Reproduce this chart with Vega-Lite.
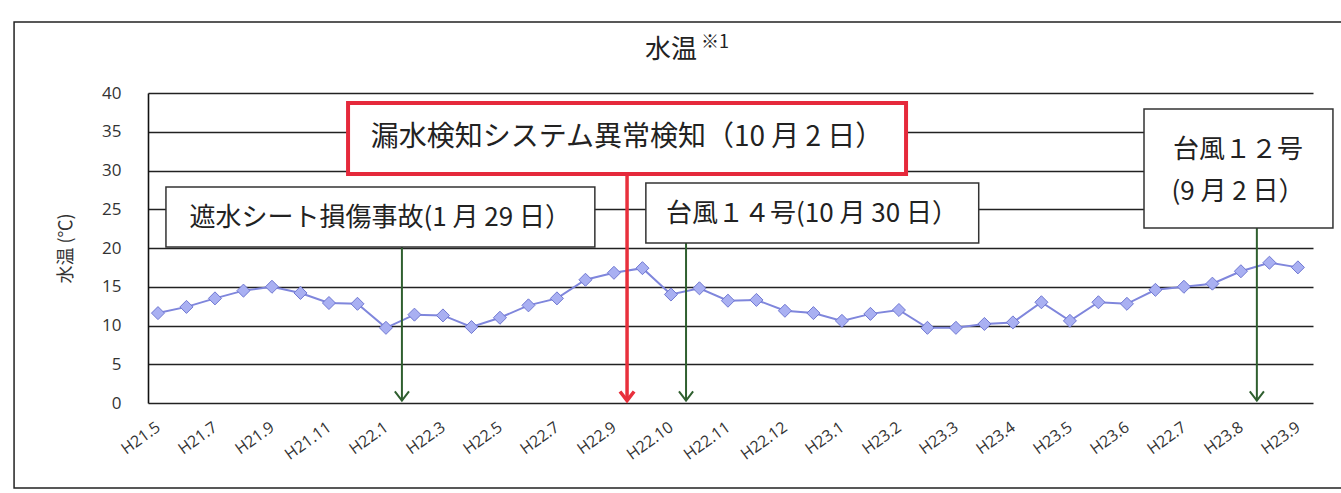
{
  "$schema": "https://vega.github.io/schema/vega-lite/v6.json",
  "autosize": {"type": "none"},
  "width": 1165,
  "height": 310,
  "padding": {"left": 148, "top": 93, "right": 28, "bottom": 90},
  "background": "white",
  "config": {
    "view": {"stroke": null}
  },
  "datasets": {
    "temps": [
      {"i": 0, "temp": 11.6}, {"i": 1, "temp": 12.4}, {"i": 2, "temp": 13.5}, {"i": 3, "temp": 14.5},
      {"i": 4, "temp": 15.0}, {"i": 5, "temp": 14.2}, {"i": 6, "temp": 12.9}, {"i": 7, "temp": 12.8},
      {"i": 8, "temp": 9.7}, {"i": 9, "temp": 11.4}, {"i": 10, "temp": 11.3}, {"i": 11, "temp": 9.8},
      {"i": 12, "temp": 11.0}, {"i": 13, "temp": 12.6}, {"i": 14, "temp": 13.5}, {"i": 15, "temp": 15.9},
      {"i": 16, "temp": 16.8}, {"i": 17, "temp": 17.4}, {"i": 18, "temp": 14.0}, {"i": 19, "temp": 14.8},
      {"i": 20, "temp": 13.2}, {"i": 21, "temp": 13.3}, {"i": 22, "temp": 11.9}, {"i": 23, "temp": 11.6},
      {"i": 24, "temp": 10.6}, {"i": 25, "temp": 11.5}, {"i": 26, "temp": 12.0}, {"i": 27, "temp": 9.7},
      {"i": 28, "temp": 9.7}, {"i": 29, "temp": 10.2}, {"i": 30, "temp": 10.4}, {"i": 31, "temp": 13.0},
      {"i": 32, "temp": 10.6}, {"i": 33, "temp": 13.0}, {"i": 34, "temp": 12.8}, {"i": 35, "temp": 14.6},
      {"i": 36, "temp": 15.0}, {"i": 37, "temp": 15.4}, {"i": 38, "temp": 17.0}, {"i": 39, "temp": 18.1},
      {"i": 40, "temp": 17.5}
    ],
    "frame": [
      {"x1": -5.05, "x2": 41.9, "y1": 49.16, "y2": -10.97}
    ],
    "heading": [
      {"tx": 18.0, "ty": 45.5, "label": "水温", "part": "main"},
      {"tx": 19.55, "ty": 46.4, "label": "※1", "part": "note"}
    ],
    "events": [
      {"type": "alert", "x1": 6.67, "x2": 26.25, "y1": 38.7, "y2": 29.55, "ax": 16.46},
      {"type": "event", "x1": 0.28, "x2": 15.33, "y1": 27.87, "y2": 20.13, "ax": 8.56},
      {"type": "event", "x1": 17.12, "x2": 28.8, "y1": 28.39, "y2": 20.65, "ax": 18.53},
      {"type": "event", "x1": 34.6, "x2": 41.23, "y1": 37.94, "y2": 22.58, "ax": 38.56}
    ],
    "texts": [
      {"type": "alert", "tx": 16.46, "ty": 34.2, "label": "漏水検知システム異常検知（10 月 2 日）"},
      {"type": "event", "tx": 7.8, "ty": 23.9, "label": "遮水シート損傷事故(1 月 29 日）"},
      {"type": "event", "tx": 22.95, "ty": 24.4, "label": "台風１４号(10 月 30 日）"},
      {"type": "event", "tx": 37.9, "ty": 32.6, "label": "台風１２号"},
      {"type": "event", "tx": 37.9, "ty": 27.2, "label": "(9 月 2 日）"}
    ]
  },
  "encoding": {
    "x": {"type": "quantitative",
      "scale": {"domain": [-0.35, 40.53], "nice": false, "zero": false},
      "axis": {"values": [0,2,4,6,8,10,12,14,16,18,20,22,24,26,28,30,32,34,36,38,40],
        "labelExpr": "['H21.5','H21.7','H21.9','H21.11','H22.1','H22.3','H22.5','H22.7','H22.9','H22.10','H22.11','H22.12','H23.1','H23.2','H23.3','H23.4','H23.5','H23.6','H22.7','H23.8','H23.9'][round(datum.value/2)]",
        "labelAngle": -36, "labelAlign": "right", "labelBaseline": "middle", "labelPadding": 22,
        "labelFont": "Open Sans", "labelFontSize": 16, "labelColor": "#333", "labelOverlap": false,
        "domain": false, "ticks": false, "grid": false,
        "title": null}},
    "y": {"type": "quantitative",
      "scale": {"domain": [0, 40], "nice": false},
      "axis": {"values": [0,5,10,15,20,25,30,35,40],
        "grid": true, "gridColor": "#222", "gridWidth": 1.4,
        "domain": true, "domainColor": "#111", "domainWidth": 1.6, "ticks": false, "labelOverlap": false,
        "labelPadding": 27, "labelFont": "Open Sans", "labelFontSize": 17, "labelColor": "#333",
        "title": "水温 (℃)", "titleFont": "Noto Sans CJK JP", "titleFontSize": 18, "titleFontWeight": "normal",
        "titleColor": "#333", "titlePadding": 26}}
  },
  "layer": [
    {
      "data": {"name": "frame"},
      "mark": {"type": "rect", "fill": null, "stroke": "#222", "strokeWidth": 1.5},
      "encoding": {
        "x": {"field": "x1"},
        "x2": {"field": "x2"},
        "y": {"field": "y1"},
        "y2": {"field": "y2"}
      }
    },
    {
      "data": {"name": "heading"},
      "transform": [{"filter": "datum.part === 'main'"}],
      "mark": {"type": "text", "font": "Noto Sans CJK JP", "fontSize": 26, "color": "#222", "align": "center", "baseline": "middle"},
      "encoding": {
        "x": {"field": "tx"},
        "y": {"field": "ty"},
        "text": {"field": "label"}
      }
    },
    {
      "data": {"name": "heading"},
      "transform": [{"filter": "datum.part === 'note'"}],
      "mark": {"type": "text", "font": "Noto Sans CJK JP", "fontSize": 18, "color": "#222", "align": "center", "baseline": "middle"},
      "encoding": {
        "x": {"field": "tx"},
        "y": {"field": "ty"},
        "text": {"field": "label"}
      }
    },
    {
      "data": {"name": "temps"},
      "mark": {"type": "line", "color": "#7f86dc", "strokeWidth": 2},
      "encoding": {
        "x": {"field": "i"},
        "y": {"field": "temp"}
      }
    },
    {
      "data": {"name": "temps"},
      "mark": {"type": "point", "shape": "diamond", "filled": true, "size": 170, "fill": "#a9b0f2", "stroke": "#7078d2", "strokeWidth": 1, "opacity": 1},
      "encoding": {
        "x": {"field": "i"},
        "y": {"field": "temp"}
      }
    },
    {
      "data": {"name": "events"},
      "transform": [{"filter": "datum.type === 'event'"}],
      "mark": {"type": "rule", "stroke": "#2f5f2f", "strokeWidth": 2},
      "encoding": {
        "x": {"field": "ax"},
        "y": {"field": "y2"},
        "y2": {"datum": 0.3}
      }
    },
    {
      "data": {"name": "events"},
      "transform": [{"filter": "datum.type === 'alert'"}],
      "mark": {"type": "rule", "stroke": "#e8303c", "strokeWidth": 3.5},
      "encoding": {
        "x": {"field": "ax"},
        "y": {"field": "y2"},
        "y2": {"datum": 0.3}
      }
    },
    {
      "data": {"name": "events"},
      "transform": [{"filter": "datum.type === 'event'"}],
      "mark": {"type": "point", "shape": "M -1 -1.3 L 0 0 L 1 -1.3", "filled": false, "size": 200, "opacity": 1, "stroke": "#2f5f2f", "strokeWidth": 2},
      "encoding": {
        "x": {"field": "ax"},
        "y": {"datum": 0.3}
      }
    },
    {
      "data": {"name": "events"},
      "transform": [{"filter": "datum.type === 'alert'"}],
      "mark": {"type": "point", "shape": "M -1 -1.3 L 0 0 L 1 -1.3", "filled": false, "size": 200, "opacity": 1, "stroke": "#e8303c", "strokeWidth": 3.5},
      "encoding": {
        "x": {"field": "ax"},
        "y": {"datum": 0.3}
      }
    },
    {
      "data": {"name": "events"},
      "transform": [{"filter": "datum.type === 'event'"}],
      "mark": {"type": "rect", "fill": "white", "stroke": "#333", "strokeWidth": 1.5},
      "encoding": {
        "x": {"field": "x1"},
        "x2": {"field": "x2"},
        "y": {"field": "y1"},
        "y2": {"field": "y2"}
      }
    },
    {
      "data": {"name": "events"},
      "transform": [{"filter": "datum.type === 'alert'"}],
      "mark": {"type": "rect", "fill": "white", "stroke": "#e5293b", "strokeWidth": 4},
      "encoding": {
        "x": {"field": "x1"},
        "x2": {"field": "x2"},
        "y": {"field": "y1"},
        "y2": {"field": "y2"}
      }
    },
    {
      "data": {"name": "texts"},
      "transform": [{"filter": "datum.type === 'alert'"}],
      "mark": {"type": "text", "font": "Noto Sans CJK JP", "fontSize": 28, "color": "#222", "align": "center", "baseline": "middle"},
      "encoding": {
        "x": {"field": "tx"},
        "y": {"field": "ty"},
        "text": {"field": "label"}
      }
    },
    {
      "data": {"name": "texts"},
      "transform": [{"filter": "datum.type === 'event'"}],
      "mark": {"type": "text", "font": "Noto Sans CJK JP", "fontSize": 26, "color": "#222", "align": "center", "baseline": "middle"},
      "encoding": {
        "x": {"field": "tx"},
        "y": {"field": "ty"},
        "text": {"field": "label"}
      }
    }
  ]
}
